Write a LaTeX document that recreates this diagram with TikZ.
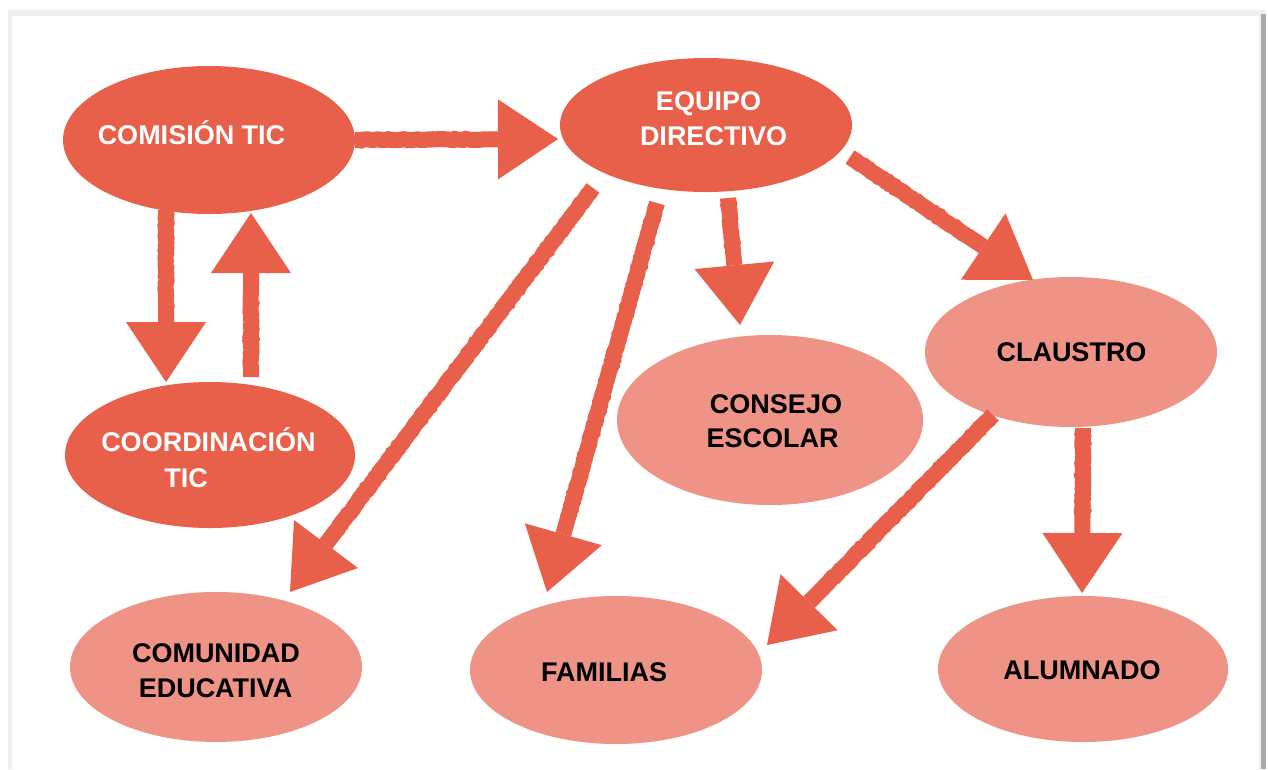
\documentclass[tikz,border=0pt]{standalone}
\usepackage{fontspec}
\setmainfont{Liberation Sans}
\usetikzlibrary{arrows.meta,shapes.geometric,decorations.pathmorphing}
\definecolor{cDark}{HTML}{E8604A}
\definecolor{cLight}{HTML}{EE9385}
\definecolor{cFrame}{HTML}{EEF0F0}
\definecolor{cShadow}{HTML}{A9ABAB}
\tikzset{
  darkell/.style={ellipse, fill=cDark, draw=none, inner sep=0pt},
  lightell/.style={ellipse, fill=cLight, draw=none, inner sep=0pt},
  wtxt/.style={text=white, font=\bfseries\fontsize{27}{35}\selectfont, inner sep=0pt, text height=19.3pt, text depth=0pt},
  btxt/.style={text=black, font=\bfseries\fontsize{27}{35}\selectfont, inner sep=0pt, text height=19.3pt, text depth=0pt},
  arr/.style={draw=cDark, line width=16pt,
    -{Triangle[length=60pt,width=80pt,line width=0pt]},
    decorate, decoration={random steps, segment length=2.5pt, amplitude=0.6pt, pre length=3pt, post length=75pt}}
}
\begin{document}
\begin{tikzpicture}[x=1pt,y=-1pt]
\useasboundingbox (0,0) rectangle (1268,769);
\fill[white] (0,0) rectangle (1268,769);
\fill[cFrame] (8,10) rectangle (1266,769);
\fill[cShadow] (1261,14) rectangle (1266,769);
\fill[white] (12,16) rectangle (1259,769);

% ellipses
\node[darkell, minimum width=292pt, minimum height=148pt] (com) at (209,140) {};
\node[darkell, minimum width=292pt, minimum height=134pt] (equ) at (706,125) {};
\node[darkell, minimum width=290pt, minimum height=146pt] (coo) at (210,455) {};
\node[lightell, minimum width=306pt, minimum height=170pt] (con) at (770,420) {};
\node[lightell, minimum width=292pt, minimum height=150pt] (cla) at (1071,352) {};
\node[lightell, minimum width=292pt, minimum height=150pt] (cmu) at (216,667) {};
\node[lightell, minimum width=292pt, minimum height=148pt] (fam) at (616,670) {};
\node[lightell, minimum width=290pt, minimum height=146pt] (alu) at (1083,669) {};

% texts
\node[wtxt] (tcom) at (191.5,134.5) {COMISIÓN TIC};
\node[wtxt] (tequ1) at (708.5,101) {EQUIPO};
\node[wtxt] (tequ2) at (713.5,136) {DIRECTIVO};
\node[wtxt] (tcoo1) at (208.5,442) {COORDINACIÓN};
\node[wtxt] (tcoo2) at (186,478) {TIC};
\node[btxt] (tcon1) at (776,404) {CONSEJO};
\node[btxt] (tcon2) at (772.5,438) {ESCOLAR};
\node[btxt] (tcla) at (1071.5,352) {CLAUSTRO};
\node[btxt] (tcmu1) at (216,653) {COMUNIDAD};
\node[btxt] (tcmu2) at (215.5,688) {EDUCATIVA};
\node[btxt] (tfam) at (604,672) {FAMILIAS};
\node[btxt] (talu) at (1082,670) {ALUMNADO};

% arrow ends
\coordinate (a1s) at (355,140);  \coordinate (a1e) at (558,139);
\coordinate (a2s) at (166,210);  \coordinate (a2e) at (166,382);
\coordinate (a3s) at (251,377);  \coordinate (a3e) at (251,213);
\coordinate (a4s) at (593,188);  \coordinate (a4e) at (290,592);
\coordinate (a5s) at (657,203);  \coordinate (a5e) at (547,592);
\coordinate (a6s) at (728,198);  \coordinate (a6e) at (740,325);
\coordinate (a7s) at (850,157);  \coordinate (a7e) at (1033,280);
\coordinate (a8s) at (993,415);  \coordinate (a8e) at (767,645);
\coordinate (a9s) at (1083,428); \coordinate (a9e) at (1082,593);

\draw[arr] (a1s) -- (a1e);
\draw[arr] (a2s) -- (a2e);
\draw[arr] (a3s) -- (a3e);
\draw[arr] (a4s) -- (a4e);
\draw[arr] (a5s) -- (a5e);
\draw[arr] (a6s) -- (a6e);
\draw[arr] (a7s) -- (a7e);
\draw[arr] (a8s) -- (a8e);
\draw[arr] (a9s) -- (a9e);
\end{tikzpicture}
\end{document}
